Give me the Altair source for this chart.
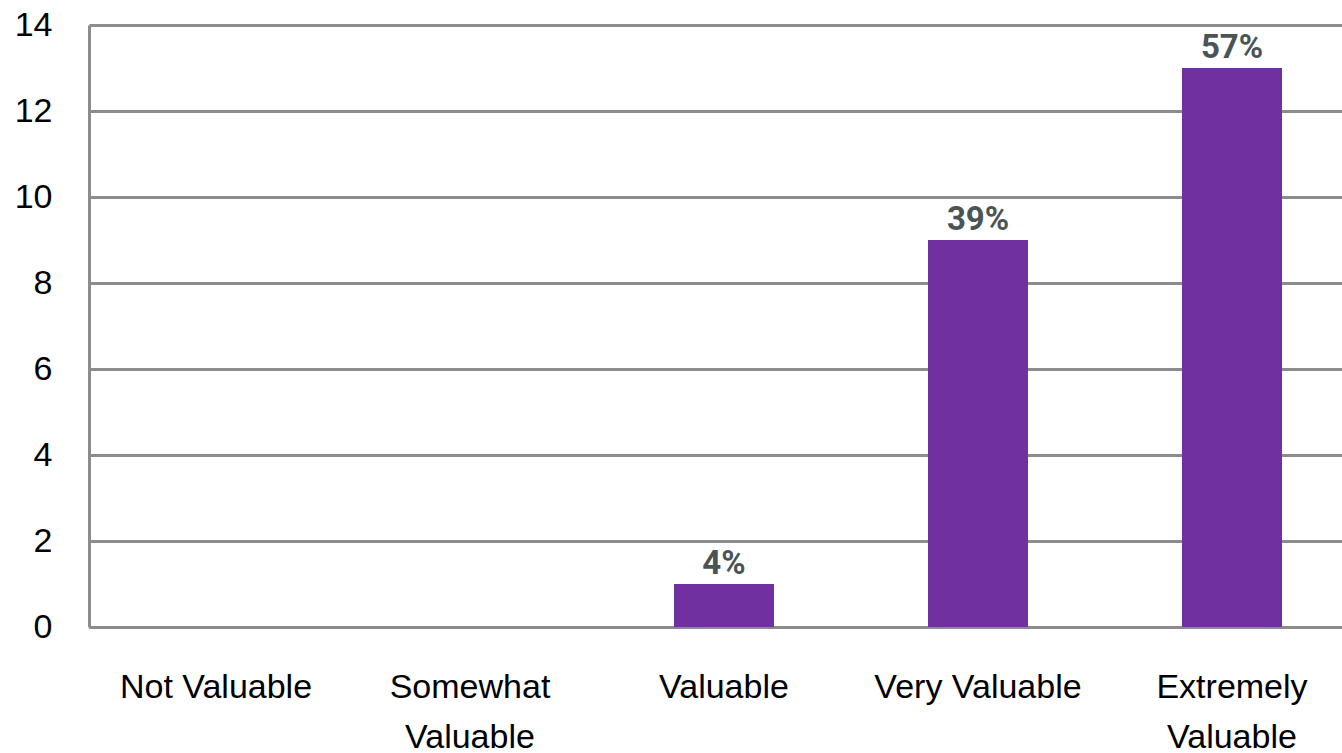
import altair as alt
import pandas as pd

categories = ["Not Valuable", "Somewhat Valuable", "Valuable", "Very Valuable", "Extremely Valuable"]
counts = [0, 0, 1, 9, 13]
pct_labels = ["", "", "4%", "39%", "57%"]

df = pd.DataFrame({"cat": categories, "count": counts, "pct": pct_labels})

x_enc = alt.X(
    "cat:N",
    sort=categories,
    scale=alt.Scale(range=[0, 1270], paddingInner=0.6, paddingOuter=0.3),
    axis=alt.Axis(
        title=None,
        labelAngle=0,
        labelFont="Liberation Sans",
        labelFontSize=34,
        labelColor="#000000",
        labelPadding=43,
        labelLimit=0,
        labelLineHeight=50,
        labelBaseline="top",
        labelExpr="indexof(['Somewhat Valuable','Extremely Valuable'], datum.value) >= 0 ? split(datum.value, ' ') : datum.value",
        ticks=False,
        domain=True,
        domainColor="#8c8c8c",
        domainWidth=3,
        grid=False,
    ),
)

y_enc = alt.Y(
    "count:Q",
    scale=alt.Scale(domain=[0, 14], nice=False),
    axis=alt.Axis(
        title=None,
        values=[0, 2, 4, 6, 8, 10, 12, 14],
        labelFont="Liberation Sans",
        labelFontSize=34,
        labelColor="#000000",
        labelPadding=37,
        ticks=False,
        domain=True,
        domainColor="#8c8c8c",
        domainWidth=3,
        grid=True,
        gridColor="#8c8c8c",
        gridWidth=3,
    ),
)

bars = alt.Chart(df).mark_bar(color="#7030A0", width=100).encode(x=x_enc, y=y_enc)

text = alt.Chart(df).transform_filter("datum.pct != ''").mark_text(
    font="Roboto",
    fontWeight="bold",
    fontSize=33,
    color="#4A5356",
    baseline="alphabetic",
    dy=-10,
).encode(x=alt.X("cat:N", sort=categories), y="count:Q", text="pct:N")

chart = (
    alt.layer(bars, text)
    .properties(
        width=1253,
        height=602,
        autosize=alt.AutoSizeParams(type="none"),
        padding={"left": 89, "top": 25, "right": 0, "bottom": 126},
    )
    .configure_view(stroke=None)
)

chart.save("out.html", embed_options={"renderer": "svg", "actions": False})
